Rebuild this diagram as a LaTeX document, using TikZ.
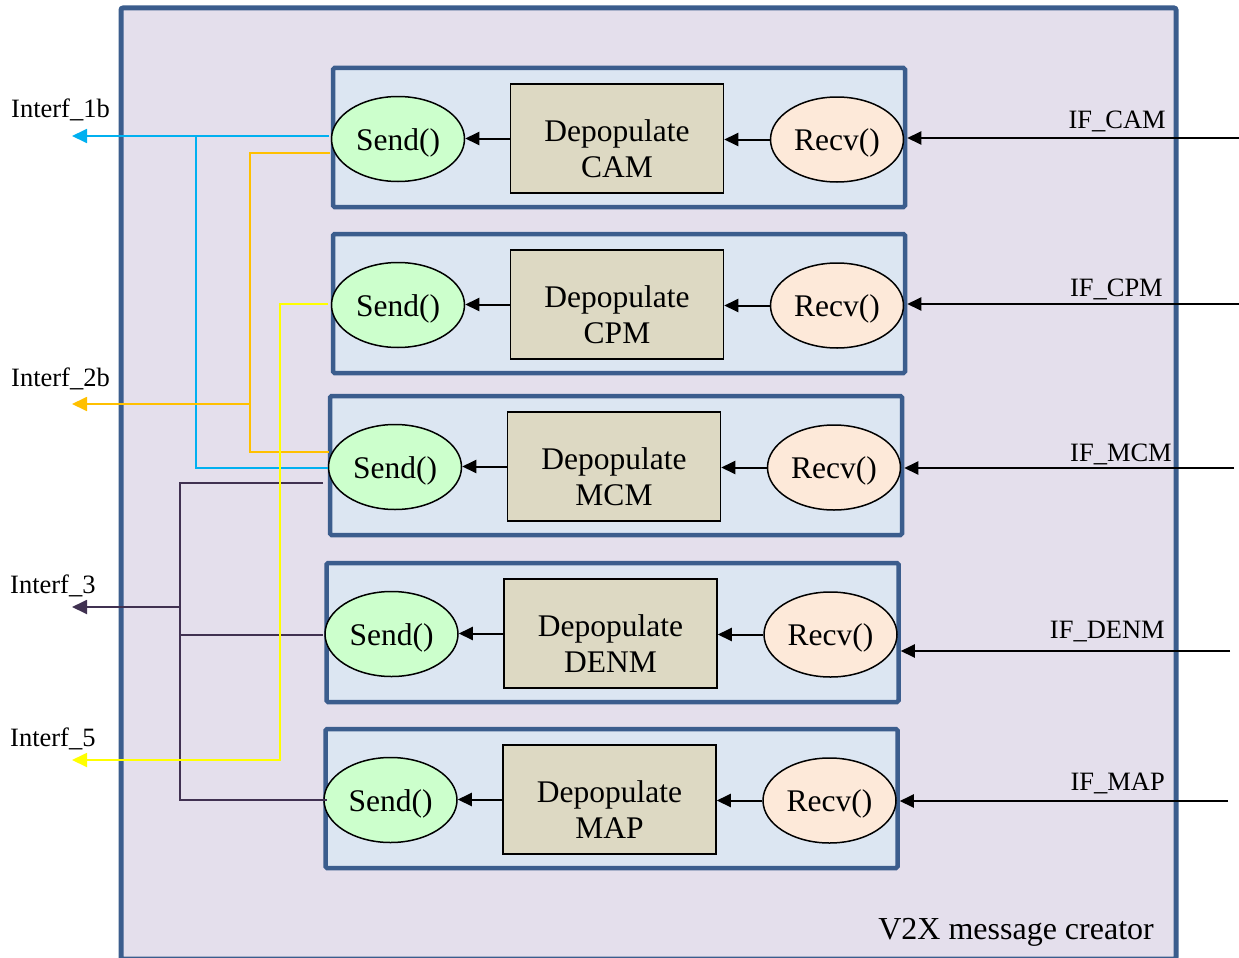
\documentclass[tikz,border=0pt]{standalone}
\usepackage{fontspec}
\setmainfont{Liberation Serif}
\usetikzlibrary{arrows.meta,calc,shapes.geometric}
\definecolor{outerfill}{HTML}{E4DFEC}
\definecolor{frame}{HTML}{3B5D8D}
\definecolor{rowfill}{HTML}{DCE6F2}
\definecolor{sendfill}{HTML}{CCFFCC}
\definecolor{recvfill}{HTML}{FDE9D9}
\definecolor{depfill}{HTML}{DDD9C3}
\definecolor{cblue}{HTML}{00B0F0}
\definecolor{corange}{HTML}{FFC000}
\definecolor{cyellow}{HTML}{FFFF00}
\definecolor{cpurple}{HTML}{403151}
\begin{document}
\begin{tikzpicture}[x=1pt,y=-1pt,
  big/.style={font=\fontsize{31.5}{36}\selectfont},
  lab/.style={font=\fontsize{26.5}{30}\selectfont, inner sep=0pt},
  outerbox/.style={draw=frame, line width=5pt, fill=outerfill, rounded corners=2pt},
  rowbox/.style={draw=frame, line width=4.5pt, fill=rowfill, rounded corners=1.5pt, minimum width=572pt, minimum height=139pt, inner sep=0pt},
  sendnode/.style={ellipse, draw=black, line width=1.5pt, fill=sendfill, minimum width=133pt, minimum height=85pt, inner sep=0pt, text height=30pt, text depth=8pt, big},
  recvnode/.style={ellipse, draw=black, line width=1.5pt, fill=recvfill, minimum width=133pt, minimum height=85pt, inner sep=0pt, text height=30pt, text depth=8pt, big},
  depnode/.style={rectangle, draw=black, line width=1.5pt, fill=depfill, minimum width=213pt, minimum height=109pt, inner sep=0pt, align=center, text height=85pt, text depth=8pt, big},
  blk/.style={draw=black, line width=2pt, -{Triangle[length=14pt,width=13pt]}},
  cline/.style={line width=1.8pt},
  carrow/.style={line width=1.8pt, -{Triangle[length=15pt,width=14pt]}}
]
\useasboundingbox (0,0) rectangle (1239,958);
\draw[outerbox] (121,8) rectangle (1176,959);
\node[lab, anchor=base east, font=\fontsize{32}{36}\selectfont] (title) at (1154,939) {V2X message creator};

\foreach \i/\dx/\yc/\msg in {1/0/139/CAM, 2/0/305/CPM, 3/-3/467/MCM, 4/-6.5/634/DENM, 5/-7.5/800/MAP}{
  \node[rowbox] (b\i) at (619+\dx,\yc-1.5) {};
  \node[sendnode] (s\i) at (398+\dx,\yc) {Send()};
  \node[depnode] (d\i) at (617+\dx,\yc-0.5) {Depopulate\\\msg};
  \node[recvnode] (r\i) at (837+\dx,\yc+0.5) {Recv()};
  \draw[blk] (r\i.west) -- (r\i.west -| d\i.east);
  \draw[blk] (d\i.west) -- (d\i.west -| s\i.east);
}

% incoming interfaces
\coordinate (in1) at (1239,138);
\coordinate (in2) at (1239,304);
\coordinate (in3) at (1234,468);
\coordinate (in4) at (1230,651);
\coordinate (in5) at (1228,801);
\foreach \i in {1,...,5}{
  \draw[blk] (in\i) -- (in\i -| b\i.east);
}
\node[lab, anchor=base east] (lcam) at (1166,128) {IF\_CAM};
\node[lab, anchor=base east] (lcpm) at (1163,296) {IF\_CPM};
\node[lab, anchor=base east] (lmcm) at (1172,461) {IF\_MCM};
\node[lab, anchor=base east] (ldenm) at (1165,638) {IF\_DENM};
\node[lab, anchor=base east] (lmap) at (1165,790) {IF\_MAP};

% outgoing interfaces
\coordinate (pu3) at (323,483);
\coordinate (pu4) at (323,635);
\coordinate (pu5) at (327,800);
\coordinate (pj) at (180,607);
\coordinate (pu0) at (72,607);
\draw[cline, cpurple] (pu3) -| (pj) |- (pu5);
\draw[cline, cpurple] (pu4) -- (pu4 -| pj);
\draw[carrow, cpurple] (pj) -- (pu0);

\coordinate (bl1) at (329,136);
\coordinate (bl3) at (328,468);
\coordinate (bj) at (196,136);
\coordinate (bl0) at (72,136);
\draw[cline, cblue] (bl3) -| (bj);
\draw[carrow, cblue] (bl1) -- (bl0);

\coordinate (or1) at (330,153);
\coordinate (or3) at (329,452);
\coordinate (oj) at (250,404);
\coordinate (or0) at (72,404);
\draw[cline, corange] (or1) -| (oj) |- (or3);
\draw[carrow, corange] (oj) -- (or0);

\coordinate (ye2) at (328,304);
\coordinate (yj) at (280,760);
\coordinate (ye0) at (72,760);
\draw[carrow, cyellow] (ye2) -| (yj) -- (ye0);

\node[lab, anchor=base west] (i1b) at (11,117) {Interf\_1b};
\node[lab, anchor=base west] (i2b) at (11,386) {Interf\_2b};
\node[lab, anchor=base west] (i3) at (10,593) {Interf\_3};
\node[lab, anchor=base west] (i5) at (10,746) {Interf\_5};
\end{tikzpicture}
\end{document}
